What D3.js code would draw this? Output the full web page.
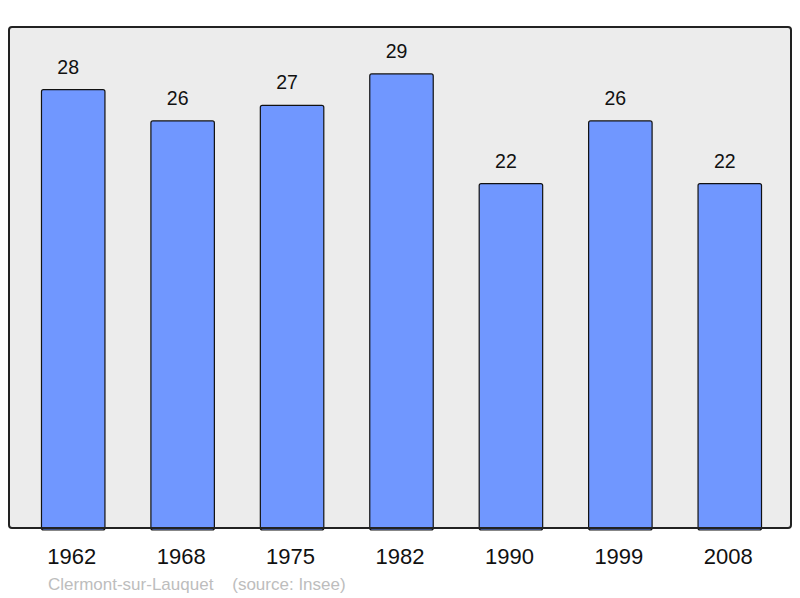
<!DOCTYPE html>
<html>
<head>
<meta charset="utf-8">
<script src="https://cdn.jsdelivr.net/npm/d3@7"></script>
<style>
  body { margin: 0; background: #fff; }
  text { font-family: "Liberation Sans", Arial, sans-serif; }
</style>
</head>
<body>
<div id="chart"></div>
<script>
const years = ["1962", "1968", "1975", "1982", "1990", "1999", "2008"];
const population = [28, 26, 27, 29, 22, 26, 22];
const yMax = 32;

const width = 800, height = 598;
const frame = { left: 9, top: 27, right: 791, bottom: 528 };

const svg = d3.select("#chart").append("svg")
  .attr("width", width)
  .attr("height", height);

// background frame
svg.append("rect")
  .attr("x", frame.left)
  .attr("y", frame.top)
  .attr("width", frame.right - frame.left)
  .attr("height", frame.bottom - frame.top)
  .attr("rx", 3)
  .style("fill", "#ececec")
  .style("stroke", "none");

const x = d3.scaleBand()
  .domain(years)
  .range([18.5, 784.5])
  .paddingInner(0.42)
  .paddingOuter(0.21);

const y = d3.scaleLinear()
  .domain([0, yMax])
  .range([frame.bottom, frame.top]);

// bars
svg.selectAll(".bar")
  .data(years)
  .enter().append("rect")
  .attr("class", "bar")
  .attr("x", d => x(d))
  .attr("y", (d, i) => y(population[i]))
  .attr("width", x.bandwidth())
  .attr("height", (d, i) => y(0) - y(population[i]) + 2)
  .attr("rx", 2)
  .style("fill", "#7097ff")
  .style("stroke", "#111")
  .style("stroke-width", 1.2);

// frame border on top
svg.append("rect")
  .attr("x", frame.left)
  .attr("y", frame.top)
  .attr("width", frame.right - frame.left)
  .attr("height", frame.bottom - frame.top)
  .attr("rx", 3)
  .style("fill", "none")
  .style("stroke", "#222")
  .style("stroke-width", 2);

// value labels (sit a little left of the bar centre, as in the original)
svg.selectAll(".value")
  .data(years)
  .enter().append("text")
  .attr("class", "value")
  .attr("x", d => x(d) + x.bandwidth() / 2 - 5)
  .attr("y", (d, i) => y(population[i]) - 16)
  .attr("text-anchor", "middle")
  .style("font-size", "19.5px")
  .style("fill", "#111")
  .text((d, i) => population[i]);

// x axis labels
const xAxis = d3.axisBottom(x).tickSize(0).tickPadding(0);
const gx = svg.append("g")
  .attr("transform", `translate(-1.5,${frame.bottom})`)
  .call(xAxis);
gx.select(".domain").remove();
gx.selectAll("text")
  .attr("y", 36)
  .attr("dy", 0)
  .style("font-size", "22px")
  .style("fill", "#111")
  .style("font-family", "'Liberation Sans', Arial, sans-serif");

// footer
svg.append("text")
  .attr("x", 48)
  .attr("y", 590)
  .style("font-size", "17px")
  .style("fill", "#bdbdbd")
  .text("Clermont-sur-Lauquet\u00a0\u00a0\u00a0\u00a0(source: Insee)");
</script>
</body>
</html>
